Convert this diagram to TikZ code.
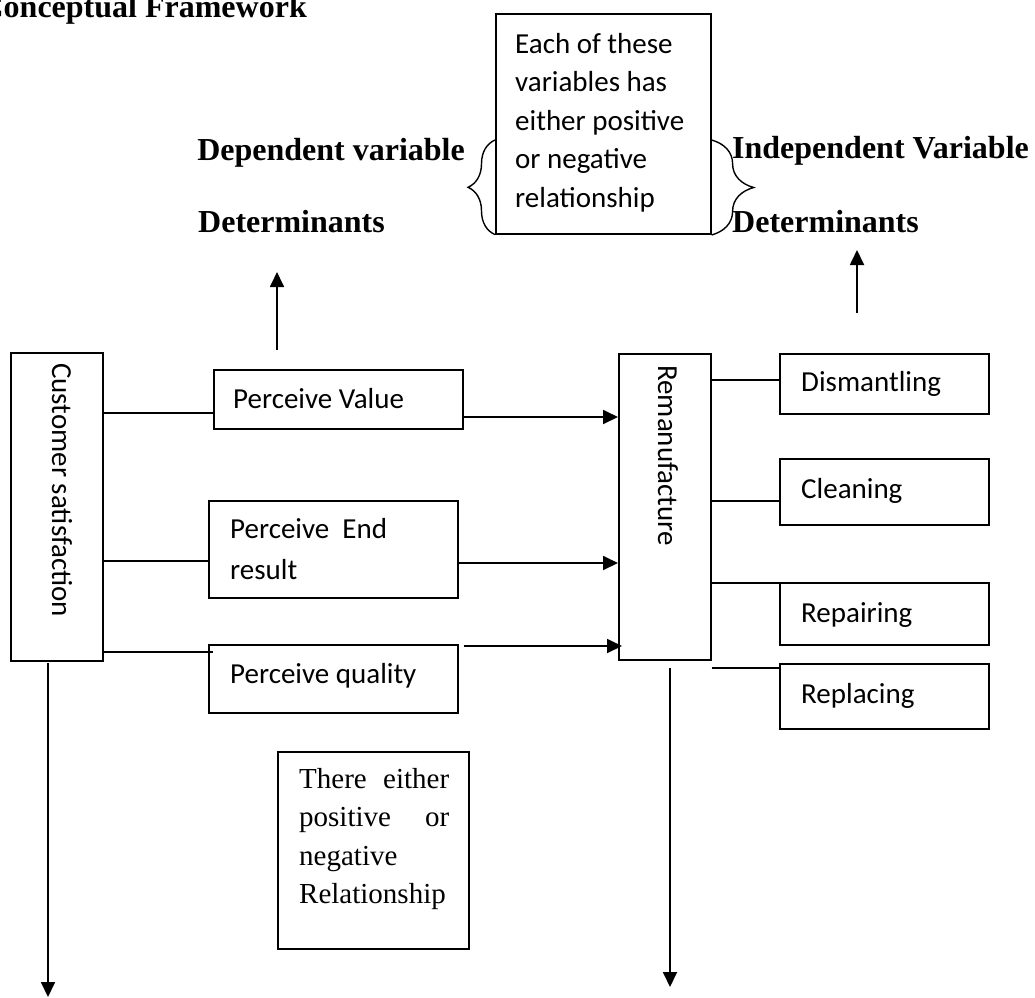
\documentclass[tikz,border=0pt]{standalone}
\usepackage{fontspec}
\setmainfont{Liberation Serif}
\newfontfamily\calfont{Carlito}
\usetikzlibrary{arrows.meta,decorations.pathreplacing,calc}
\begin{document}
\begin{tikzpicture}[x=1pt,y=-1pt,
  box/.style={draw,line width=1.6pt,inner sep=0,anchor=north west},
  txt/.style={inner sep=0,anchor=base west,font=\calfont\fontsize{29}{38.5}\selectfont},
  rtxt/.style={inner sep=0,anchor=base west,font=\fontsize{29}{38.5}\selectfont},
  btxt/.style={inner sep=0,font=\bfseries\fontsize{32}{38}\selectfont},
  ln/.style={line width=1.6pt},
  arr/.style={line width=1.8pt,-{Triangle[length=15pt,width=14pt]}},
  brc/.style={line width=1.4pt,decorate}]
\useasboundingbox (0,0) rectangle (1035,997);

% title and headings
\node[btxt,anchor=base east] (title) at (307,17) {Conceptual Framework};
\node[btxt,anchor=base east] (dep) at (465,160) {Dependent variable};
\node[btxt,anchor=base west] (detL) at (198,232) {Determinants};
\node[btxt,anchor=base west] (ind) at (732,158) {Independent Variable};
\node[btxt,anchor=base west] (detR) at (732,232) {Determinants};

% top box
\node[box,minimum width=215pt,minimum height=220pt] (tb) at (495,13) {};
\node[txt] (tbT) at (515,53) {\vtop{\baselineskip=38.5pt
  \hbox{Each of these}\hbox{variables has}\hbox{either positive}\hbox{or negative}\hbox{relationship}}};
\draw[brc,decoration={brace,amplitude=27pt}] (tb.south west) -- (tb.west |- 0,140);
\draw[brc,decoration={brace,amplitude=42pt}] (tb.east |- 0,140) -- (tb.east |- 0,235);

% left column
\node[box,minimum width=92pt,minimum height=308pt] (cs) at (10,352) {};
\node[txt,rotate=-90] (csT) at (52,363) {Customer satisfaction};

\node[box,minimum width=249pt,minimum height=59pt] (pv) at (213,369) {};
\node[txt] (pvT) at (233,408) {Perceive Value};
\node[box,minimum width=249pt,minimum height=97pt] (pe) at (208,500) {};
\node[txt] (peT) at (230,538) {\vtop{\baselineskip=41pt\hbox{Perceive\ \ End}\hbox{result}}};
\node[box,minimum width=249pt,minimum height=68pt] (pq) at (208,644) {};
\node[txt] (pqT) at (230,683) {Perceive quality};

% remanufacture
\node[box,minimum width=92pt,minimum height=306pt] (rm) at (618,353) {};
\node[txt,rotate=-90] (rmT) at (658,365) {Remanufacture};

\node[box,minimum width=209pt,minimum height=60pt] (dis) at (779,353) {};
\node[txt] (disT) at (801,391) {Dismantling};
\node[box,minimum width=209pt,minimum height=66pt] (cle) at (779,458) {};
\node[txt] (cleT) at (801,498) {Cleaning};
\node[box,minimum width=209pt,minimum height=62pt] (rep) at (779,582) {};
\node[txt] (repT) at (801,622) {Repairing};
\node[box,minimum width=209pt,minimum height=65pt] (rpl) at (779,663) {};
\node[txt] (rplT) at (801,703) {Replacing};

% relationship box
\node[box,minimum width=191pt,minimum height=197pt] (rel) at (277,751) {};
\node[rtxt] (relT) at (299,788) {\vtop{\baselineskip=38.5pt
  \hbox to 150pt{There\hfill either}\hbox to 150pt{positive\hfill or}\hbox{negative}\hbox{Relationship}}};

% connectors
\draw[ln] (cs.east |- 0,413) -- (pv.west |- 0,413);
\draw[ln] (cs.east |- 0,561) -- (pe.west |- 0,561);
\draw[ln] (cs.east |- 0,652) -- ($(pq.west |- 0,652)+(5,0)$);

\draw[arr] (pv.east |- 0,417) -- (rm.west |- 0,417);
\draw[arr] (pe.east |- 0,563) -- (rm.west |- 0,563);
\draw[arr] ($(pq.east |- 0,646)+(5,0)$) -- ($(rm.west |- 0,646)+(4,0)$);

\draw[ln] (rm.east |- 0,380) -- (dis.west |- 0,380);
\draw[ln] (rm.east |- 0,501) -- (cle.west |- 0,501);
\draw[ln] (rm.east |- 0,583) -- (rep.west |- 0,583);
\draw[ln] (rm.east |- 0,668) -- (rpl.west |- 0,668);

\coordinate (csOut) at (48,663);
\coordinate (csEnd) at (48,997);
\coordinate (rmOut) at (670,668);
\coordinate (rmEnd) at (670,987);
\draw[arr] (csOut) -- (csEnd);
\draw[arr] (rmOut) -- (rmEnd);

\coordinate (upL1) at (277,350);
\coordinate (upL2) at (277,272);
\coordinate (upR1) at (857,313);
\coordinate (upR2) at (857,250);
\draw[arr] (upL1) -- (upL2);
\draw[arr] (upR1) -- (upR2);
\end{tikzpicture}
\end{document}
